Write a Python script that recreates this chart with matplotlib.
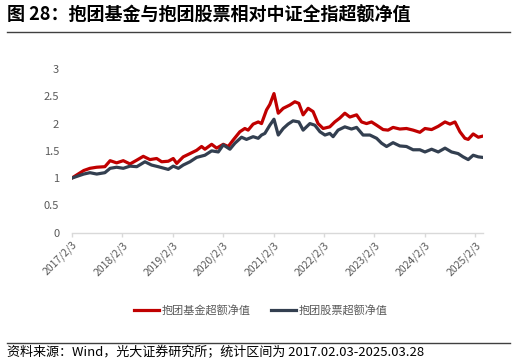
import matplotlib
matplotlib.use('Agg')
import matplotlib.pyplot as plt
import pandas as pd

plt.rcParams['font.family'] = ['Noto Sans CJK SC', 'DejaVu Sans']

# values
fund_dates = [
    '2017-02-03', '2017-05-01', '2017-06-15', '2017-08-03', '2017-10-01', '2017-11-08',
    '2017-12-25', '2018-02-11', '2018-04-01', '2018-05-20', '2018-07-06', '2018-08-23',
    '2018-10-11', '2018-11-16', '2019-01-03', '2019-02-08', '2019-03-05', '2019-04-21',
    '2019-06-09', '2019-07-27', '2019-09-01', '2019-09-25', '2019-11-13', '2019-12-19',
    '2020-02-05', '2020-03-12', '2020-04-17', '2020-06-04', '2020-07-10', '2020-08-03',
    '2020-09-08', '2020-10-15', '2020-11-08', '2020-12-14', '2021-01-07', '2021-02-06',
    '2021-03-09', '2021-04-14', '2021-06-01', '2021-07-07', '2021-08-05', '2021-09-05',
    '2021-10-11', '2021-11-16', '2021-12-22', '2022-01-28', '2022-03-17', '2022-04-22',
    '2022-05-28', '2022-07-04', '2022-08-09', '2022-09-27', '2022-11-02', '2022-12-08',
    '2023-01-13', '2023-02-19', '2023-04-07', '2023-05-13', '2023-06-18', '2023-08-06',
    '2023-09-23', '2023-11-10', '2023-12-29', '2024-02-04', '2024-03-23', '2024-05-10',
    '2024-06-28', '2024-08-03', '2024-09-08', '2024-10-14', '2024-11-19', '2024-12-13',
    '2025-01-18', '2025-02-24', '2025-03-28',
]
fund_values = [
    1.00, 1.14, 1.18, 1.20, 1.21, 1.32,
    1.28, 1.32, 1.26, 1.33, 1.40, 1.34,
    1.36, 1.30, 1.31, 1.36, 1.27, 1.39,
    1.45, 1.51, 1.58, 1.53, 1.62, 1.55,
    1.62, 1.58, 1.70, 1.85, 1.91, 1.88,
    1.99, 2.03, 2.00, 2.25, 2.35, 2.55,
    2.19, 2.28, 2.34, 2.40, 2.37, 2.16,
    2.28, 2.22, 2.00, 1.91, 1.94, 2.03,
    2.10, 2.19, 2.12, 2.16, 2.03, 2.00,
    2.03, 1.97, 1.89, 1.88, 1.93, 1.90,
    1.91, 1.88, 1.84, 1.91, 1.89, 1.95,
    2.03, 1.99, 2.03, 1.85, 1.73, 1.71,
    1.81, 1.75, 1.77,
]

stock_dates = [
    '2017-02-03', '2017-05-01', '2017-06-15', '2017-08-03', '2017-10-01', '2017-11-08',
    '2017-12-25', '2018-02-11', '2018-04-01', '2018-05-20', '2018-07-18', '2018-09-04',
    '2018-10-22', '2019-01-03', '2019-02-08', '2019-03-17', '2019-04-21', '2019-06-09',
    '2019-07-27', '2019-09-25', '2019-11-13', '2019-12-31', '2020-02-05', '2020-03-24',
    '2020-04-29', '2020-06-16', '2020-07-22', '2020-09-08', '2020-10-15', '2020-11-08',
    '2020-12-02', '2021-01-07', '2021-02-06', '2021-03-09', '2021-04-14', '2021-05-19',
    '2021-06-24', '2021-08-05', '2021-09-05', '2021-10-24', '2021-11-29', '2022-01-05',
    '2022-02-10', '2022-03-17', '2022-04-10', '2022-05-16', '2022-07-04', '2022-08-21',
    '2022-09-27', '2022-11-13', '2023-01-01', '2023-02-19', '2023-03-27', '2023-05-02',
    '2023-06-18', '2023-08-06', '2023-09-23', '2023-11-10', '2023-12-29', '2024-02-04',
    '2024-03-23', '2024-05-10', '2024-06-28', '2024-08-14', '2024-10-01', '2024-11-06',
    '2024-12-13', '2025-01-18', '2025-02-24', '2025-03-28',
]
stock_values = [
    1.00, 1.075, 1.10, 1.075, 1.10, 1.18,
    1.20, 1.18, 1.22, 1.21, 1.30, 1.24,
    1.21, 1.16, 1.22, 1.18, 1.24, 1.30,
    1.38, 1.42, 1.50, 1.48, 1.61, 1.53,
    1.64, 1.75, 1.71, 1.76, 1.73, 1.79,
    1.82, 1.97, 2.08, 1.79, 1.91, 1.99,
    2.05, 2.03, 1.88, 2.00, 1.97, 1.85,
    1.79, 1.82, 1.76, 1.88, 1.94, 1.90,
    1.93, 1.79, 1.79, 1.73, 1.64, 1.58,
    1.65, 1.59, 1.58, 1.52, 1.52, 1.48,
    1.53, 1.48, 1.55, 1.48, 1.45, 1.39,
    1.34, 1.42, 1.39, 1.38,
]

tick_dates = ['2017-02-03', '2018-02-03', '2019-02-03', '2020-02-03', '2021-02-03',
              '2022-02-03', '2023-02-03', '2024-02-03', '2025-02-03']
tick_labels = ['2017/2/3', '2018/2/3', '2019/2/3', '2020/2/3', '2021/2/3',
               '2022/2/3', '2023/2/3', '2024/2/3', '2025/2/3']
y_ticks = [0, 0.5, 1, 1.5, 2, 2.5, 3]
y_labels = ['0', '0.5', '1', '1.5', '2', '2.5', '3']

series_names = ['抱团基金超额净值', '抱团股票超额净值']
series_colors = ['#C00000', '#333F50']

title = '图 28：抱团基金与抱团股票相对中证全指超额净值'
source = '资料来源：Wind，光大证券研究所；统计区间为 2017.02.03-2025.03.28'

fig = plt.figure(figsize=(5.16, 3.64), dpi=100)
ax = fig.add_axes([0.139, 0.3607, 0.7965, 0.4497])

ax.plot(pd.to_datetime(fund_dates), fund_values, color=series_colors[0], lw=2.3,
        label=series_names[0], solid_joinstyle='round')
ax.plot(pd.to_datetime(stock_dates), stock_values, color=series_colors[1], lw=2.3,
        label=series_names[1], solid_joinstyle='round')

ax.set_xlim(pd.Timestamp('2017-02-03'), pd.Timestamp('2025-03-28'))
ax.set_ylim(0, 3)
ax.set_yticks(y_ticks)
ax.set_yticklabels(y_labels)
ax.set_xticks(pd.to_datetime(tick_dates))
ax.set_xticklabels(tick_labels, rotation=45, ha='right', va='top', rotation_mode='anchor')

for s in ['top', 'right', 'left']:
    ax.spines[s].set_visible(False)
ax.spines['bottom'].set_color('#D9D9D9')
ax.spines['bottom'].set_linewidth(1.0)
ax.tick_params(axis='y', length=0, pad=9, labelsize=8, labelcolor='#595959')
ax.tick_params(axis='x', length=3, width=1, color='#D9D9D9', pad=2,
               labelsize=7.5, labelcolor='#595959')

fig.legend(loc='center', bbox_to_anchor=(0.505, 0.1464), ncol=2, frameon=False,
           fontsize=8, handlelength=2.3, handletextpad=0.2, columnspacing=1.8,
           labelcolor='#595959')

# title and rules
fig.text(0.013, 0.958, title, fontsize=13, fontweight='bold', color='#000000',
         ha='left', va='center')
fig.add_artist(plt.Line2D([0.013, 0.988], [0.913, 0.913], color='#404040', lw=1.0))
fig.add_artist(plt.Line2D([0.013, 0.988], [0.057, 0.057], color='#404040', lw=1.0))
fig.text(0.013, 0.031, source, fontsize=9.4, color='#000000', ha='left', va='center')

fig.savefig('out.png', dpi=100, facecolor='white')
